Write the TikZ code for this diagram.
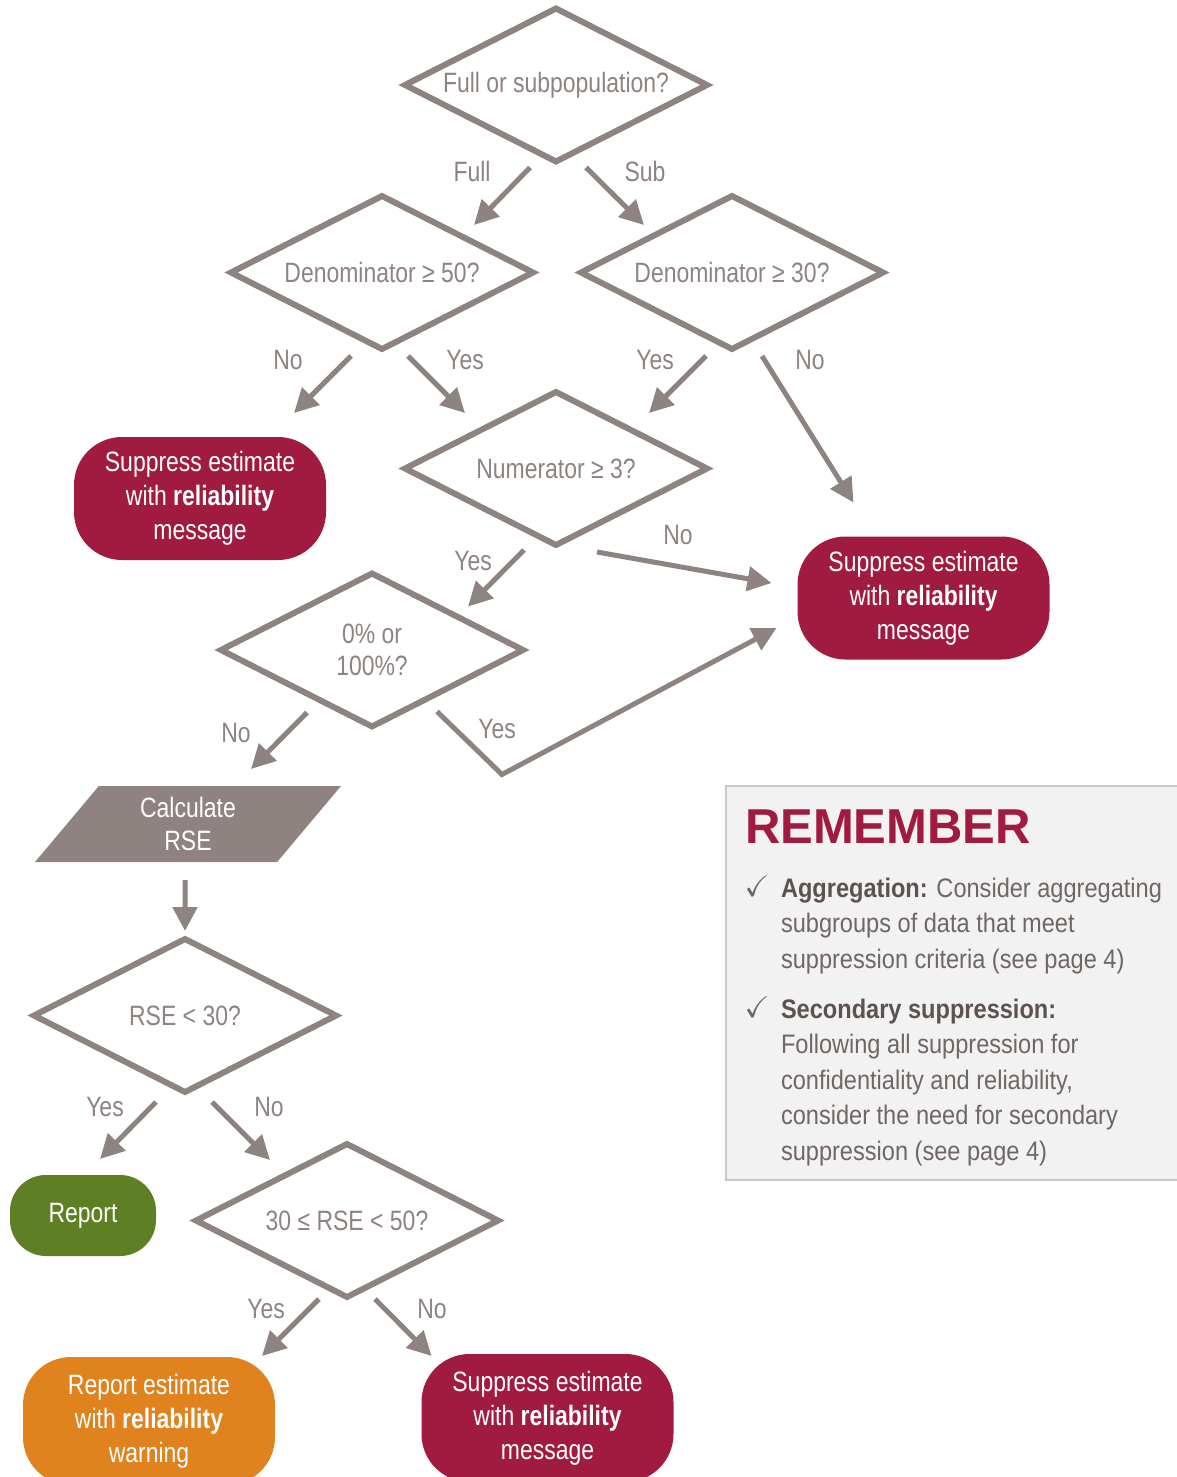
\documentclass[tikz,border=0pt]{standalone}
\usepackage{amssymb}
\usepackage{fontspec}
\setmainfont{Liberation Sans}[FakeStretch=0.82]
\newfontfamily\headfont{Liberation Sans}
\newfontfamily\remfont{Liberation Sans}[FakeStretch=0.88]
\usetikzlibrary{shapes.geometric,arrows.meta}
\definecolor{flowgrey}{RGB}{142,131,129}
\definecolor{supred}{RGB}{161,26,63}
\definecolor{repgreen}{RGB}{94,127,36}
\definecolor{warnorange}{RGB}{224,130,30}
\definecolor{rembg}{RGB}{242,242,242}
\definecolor{remline}{RGB}{200,200,200}
\definecolor{remtext}{RGB}{112,102,100}
\definecolor{remdark}{RGB}{92,82,80}

\begin{document}
\begin{tikzpicture}[x=0.5pt,y=0.5pt]
\tikzstyle{every node}+=[inner sep=0pt,outer sep=0pt]
\tikzstyle{question}=[diamond,aspect=2,draw=flowgrey,line width=3pt,minimum width=151pt,minimum height=76.5pt,text=flowgrey,align=center,font=\fontsize{14}{16}\selectfont]
\tikzstyle{endbox}=[rectangle,rounded corners=24pt,minimum width=126pt,minimum height=61.5pt,text=white,align=center,font=\fontsize{14}{17}\selectfont]
\tikzstyle{arr}=[draw=flowgrey,line width=2.5pt,-{Triangle[length=12pt,width=12pt]}]
\tikzstyle{lbl}=[text=flowgrey,font=\fontsize{14}{16}\selectfont]
\tikzstyle{remitem}=[anchor=north west,align=left,text=remtext,font=\remfont\fontsize{13.4}{17.75}\selectfont]
\useasboundingbox (0,0) rectangle (1177,-1477);
\node[question] (full) at (556,-85) {Full or subpopulation?};
\node[question] (den50) at (382,-272.5) {Denominator ≥ 50?};
\node[question] (den30) at (732,-272.5) {Denominator ≥ 30?};
\node[question] (num3) at (556,-468.5) {Numerator ≥ 3?};
\node[question] (zero) at (372,-650) {0\% or\\100\%?};
\node[trapezium,trapezium left angle=40,trapezium right angle=140,trapezium stretches body,fill=flowgrey,minimum width=153pt,minimum height=38pt,text=white,align=center,font=\fontsize{14}{16.5}\selectfont] (calc) at (188,-824) {Calculate\\RSE};
\node[question] (rse30) at (185,-1015.5) {RSE < 30?};
\node[question] (rse50) at (347,-1220.5) {30 ≤ RSE < 50?};
\node[endbox,fill=supred] (sup1) at (200,-498.5) {Suppress estimate\\with \textbf{reliability}\\message};
\node[endbox,fill=supred] (sup2) at (923.5,-598) {Suppress estimate\\with \textbf{reliability}\\message};
\node[endbox,fill=repgreen,minimum width=73pt,minimum height=40.5pt,rounded corners=18pt] (report) at (83,-1215.5) {Report};
\node[endbox,fill=warnorange,minimum height=64pt] (warn) at (149,-1421) {Report estimate\\with \textbf{reliability}\\warning};
\node[endbox,fill=supred,minimum height=64pt] (sup3) at (547.5,-1418) {Suppress estimate\\with \textbf{reliability}\\message};
\draw[arr] ([shift={(-26,-6)}]full.south) -- ([shift={(92,-29)}]den50.north);
\node[lbl] (tfull) at (472,-171) {Full};
\draw[arr] ([shift={(30,-6)}]full.south) -- ([shift={(-88,-29)}]den30.north);
\node[lbl] (tsub) at (645,-171) {Sub};
\draw[arr] ([shift={(-31,-7)}]den50.south) -- ([shift={(94,24)}]sup1.north);
\node[lbl] (tno50) at (288,-360) {No};
\draw[arr] ([shift={(26,-7)}]den50.south) -- ([shift={(-91,-21)}]num3.north);
\node[lbl] (tyes50) at (465,-360) {Yes};
\draw[arr] ([shift={(-26,-7)}]den30.south) -- ([shift={(93,-21)}]num3.north);
\node[lbl] (tyes30) at (655,-360) {Yes};
\draw[arr] ([shift={(30,-7)}]den30.south) -- ([shift={(-70,34)}]sup2.north);
\node[lbl] (tno30) at (810,-360) {No};
\draw[arr] ([shift={(-32,-5)}]num3.south) -- ([shift={(96,-33)}]zero.north);
\node[lbl] (tyesnum) at (473,-561) {Yes};
\draw[arr] ([shift={(41,-7)}]num3.south) -- ([shift={(-26,15)}]sup2.west);
\node[lbl] (tnonum) at (678,-535) {No};
\draw[arr] ([shift={(-65,14)}]zero.south) -- ([shift={(63,17)}]calc.north);
\node[lbl] (tnozero) at (236,-733) {No};
\draw[arr] ([shift={(65,15)}]zero.south) -- ([shift={(130,-48)}]zero.south) -- ([shift={(-21,-30)}]sup2.west);
\node[lbl] (tyeszero) at (497,-729) {Yes};
\draw[arr] ([shift={(-3,-18)}]calc.south) -- ([shift={(0,8)}]rse30.north);
\draw[arr] ([shift={(-29,-10)}]rse30.south) -- ([shift={(17,16)}]report.north);
\node[lbl] (tyesrse) at (105,-1107) {Yes};
\draw[arr] ([shift={(27,-10)}]rse30.south) -- ([shift={(-77,-16)}]rse50.north);
\node[lbl] (tnorse) at (269,-1107) {No};
\draw[arr] ([shift={(-28,-2)}]rse50.south) -- ([shift={(113,1)}]warn.north);
\node[lbl] (tyesmid) at (266,-1309) {Yes};
\draw[arr] ([shift={(28,-2)}]rse50.south) -- ([shift={(-116,-2)}]sup3.north);
\node[lbl] (tnomid) at (432,-1309) {No};
\node[draw=remline,fill=rembg,line width=1pt,minimum width=227pt,minimum height=197pt] (rem) at (953,-983) {};
\node[anchor=base west,text=supred,font=\headfont\fontsize{24.5}{28}\selectfont\bfseries] (remhead) at (745,-843) {REMEMBER};
\node[text=remtext,font=\fontsize{15}{16}\selectfont] (tick1) at (757,-886) {$\checkmark$};
\node[remitem] (item1) at (781,-878) {\textcolor{remdark}{\textbf{Aggregation:}} Consider aggregating\\subgroups of data that meet\\suppression criteria (see page 4)};
\node[text=remtext,font=\fontsize{15}{16}\selectfont] (tick2) at (757,-1007) {$\checkmark$};
\node[remitem] (item2) at (781,-999) {\textcolor{remdark}{\textbf{Secondary suppression:}}\\Following all suppression for\\confidentiality and reliability,\\consider the need for secondary\\suppression (see page 4)};
\end{tikzpicture}
\end{document}
